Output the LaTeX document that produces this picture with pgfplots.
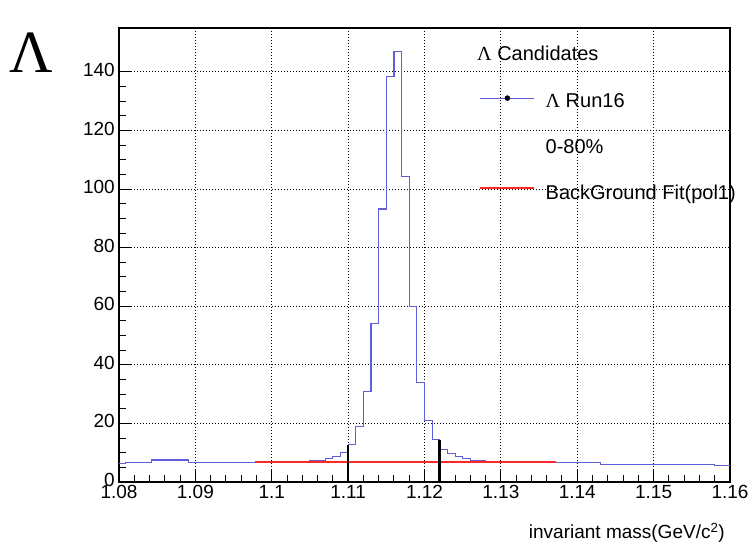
\documentclass[border=0pt]{standalone}
\usepackage{fontspec}
\setmainfont{Liberation Sans}
\newfontfamily\seriffont{Liberation Serif}
\usepackage{pgfplots}
\pgfplotsset{compat=1.18}
\definecolor{histblue}{RGB}{95,95,215}
\definecolor{fitred}{RGB}{255,40,40}
\begin{document}
\begin{tikzpicture}
\useasboundingbox (-119pt,-67pt) rectangle (629pt,482pt);
\begin{axis}[
  at={(0pt,0pt)}, anchor=south west,
  scale only axis, width=611pt, height=454pt,
  xmin=1.08, xmax=1.16, ymin=0, ymax=155,
  xtick={1.08,1.09,1.10,1.11,1.12,1.13,1.14,1.15,1.16},
  ytick={0,20,40,60,80,100,120,140},
  minor x tick num=4, minor y tick num=3,
  tick align=inside, xtick pos=bottom, ytick pos=left,
  major tick length=12pt, minor tick length=7pt,
  tick style={black, line width=1pt},
  axis line style={black, line width=1.2pt},
  grid=major,
  major grid style={black, line width=0.9pt, dash pattern=on 1pt off 2pt},
  /pgf/number format/assume math mode=true,
  tick label style={font=\fontsize{19}{19}\selectfont},
  xticklabel style={yshift=-3pt, inner sep=0pt},
  yticklabel style={xshift=-4pt, yshift=2pt, inner sep=0pt},
  scaled y ticks=false,
  xlabel={invariant mass(GeV/c\textsuperscript{2})},
  x label style={at={(axis description cs:1,0)}, anchor=base east, yshift=-57pt, xshift=-5pt, inner sep=0pt, font=\fontsize{19}{19}\selectfont},
  legend style={at={(0.589,0.857)}, anchor=north west, draw=none, fill=none, inner sep=0pt,
    row sep=28pt, column sep=10pt, font=\fontsize{20}{20}\selectfont,
    nodes={inner sep=0pt, text height=14pt, text depth=4pt}},
  legend cell align=left,
]
\addplot[const plot, histblue, line width=1.1pt, forget plot] coordinates {
(1.0800,6.4) (1.0808,6.7) (1.0843,7.5) (1.0891,6.7) (1.1050,7.3)
(1.1070,8.0) (1.1080,8.7) (1.1090,10.2) (1.1100,12.8) (1.1110,18.8)
(1.1120,30.8) (1.1130,54.1) (1.1140,93.2) (1.1150,138.3) (1.1160,147.1)
(1.1170,104.2) (1.1180,59.8) (1.1190,34.1) (1.1200,20.9) (1.1210,14.5)
(1.1220,11.2) (1.1230,9.6) (1.1240,8.7) (1.1250,8.0) (1.1260,7.3)
(1.1280,6.7) (1.1430,6.1) (1.1580,5.7) (1.1600,5.7)
};
\addplot[fitred, line width=2.2pt, forget plot] coordinates {(1.0978,6.8) (1.1372,6.8)};
\addplot[black, line width=2.6pt, forget plot] coordinates {(1.110,0) (1.110,12.8)};
\addplot[black, line width=2.6pt, forget plot] coordinates {(1.122,0) (1.122,14.5)};
\addlegendimage{legend image code/.code={\draw[histblue, line width=1.2pt] (0pt,4pt) -- (54pt,4pt); \fill[black] (27pt,4pt) circle (2.5pt);}}
\addlegendentry{{\seriffont Λ} Run16}
\addlegendimage{empty legend}
\addlegendentry{0-80\%}
\addlegendimage{legend image code/.code={\draw[fitred, line width=2.6pt] (0pt,6pt) -- (54pt,6pt);}}
\addlegendentry{BackGround Fit(pol1)}
\node[anchor=base west, inner sep=0pt, font=\fontsize{20}{20}\selectfont] at (rel axis cs:0.586,0.9295) {{\seriffont Λ} Candidates};
\node[anchor=base west, inner sep=0pt, font=\fontsize{16}{16}\selectfont] at (rel axis cs:-0.002,1.003) {×10\textsuperscript{6}};
\end{axis}
\node[inner sep=0pt, font=\seriffont\fontsize{60}{60}\selectfont] at (-87.5pt,429.5pt) {Λ};
\end{tikzpicture}
\end{document}
